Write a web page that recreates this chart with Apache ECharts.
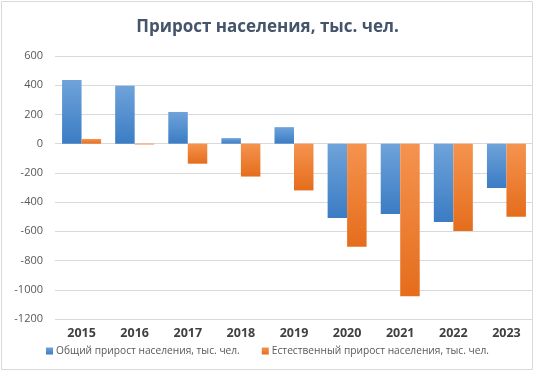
<!DOCTYPE html>
<html><head><meta charset="utf-8">
<script src="https://cdn.jsdelivr.net/npm/echarts@6/dist/echarts.min.js"></script>
<style>html,body{margin:0;padding:0;background:#fff}#c{width:535px;height:371px}</style>
</head><body><div id="c"></div>
<script>
const titleText = 'Прирост населения, тыс. чел.';
const years = ['2015','2016','2017','2018','2019','2020','2021','2022','2023'];
const seriesNames = ['Общий прирост населения, тыс. чел.', 'Естественный прирост населения, тыс. чел.'];
const totalGrowth = [435, 396, 217, 38, 113, -508, -481, -536, -303];
const naturalGrowth = [32, -5, -137, -225, -320, -705, -1045, -597, -501];
const yTicks = [-1200, 600, 200];

const chart = echarts.init(document.getElementById('c'));
const grad = (a, b) => new echarts.graphic.LinearGradient(0, 0, 0, 1, [{offset:0,color:a},{offset:1,color:b}]);
chart.setOption({
  animation: false,
  graphic: [{type:'rect', shape:{x:1.5,y:1.5,width:531,height:368}, style:{fill:'none', stroke:'#d9d9d9', lineWidth:1}, silent:true}],
  title: {text: titleText, left: 'center', top: 14,
    textStyle: {fontFamily: 'Open Sans', fontWeight: 'bold', fontSize: 17, color: '#44546a'}},
  grid: {left: 55, right: 2, top: 56, bottom: 52},
  legend: {bottom: 10, left: 'center', itemWidth: 7, itemHeight: 7, itemGap: 22, icon: 'rect',
    textStyle: {fontFamily: 'Open Sans', fontSize: 10.2, color: '#595959', padding:[0,0,0,-2]},
    data: seriesNames},
  xAxis: {type: 'category', data: years,
    axisLine: {show: false}, axisTick: {show: false},
    axisLabel: {fontFamily: 'Open Sans', fontWeight: 'bold', fontSize: 12.5, color: '#404040', margin: 8}},
  yAxis: {type: 'value', min: yTicks[0], max: yTicks[1], interval: yTicks[2],
    axisLine: {show: false}, axisTick: {show: false},
    axisLabel: {fontFamily: 'Open Sans', fontSize: 11, color: '#595959', margin: 12, formatter: v => String(v)},
    splitLine: {lineStyle: {color: '#d9d9d9', width: 1}}},
  series: [
    {name: seriesNames[0], type: 'bar', data: totalGrowth, barGap: '0%', barCategoryGap: '26.6%',
      itemStyle: {color: grad('#6fa3da', '#3b7cc4')}},
    {name: seriesNames[1], type: 'bar', data: naturalGrowth,
      itemStyle: {color: grad('#f5934f', '#e56d1c')}}
  ]
});
</script></body></html>
